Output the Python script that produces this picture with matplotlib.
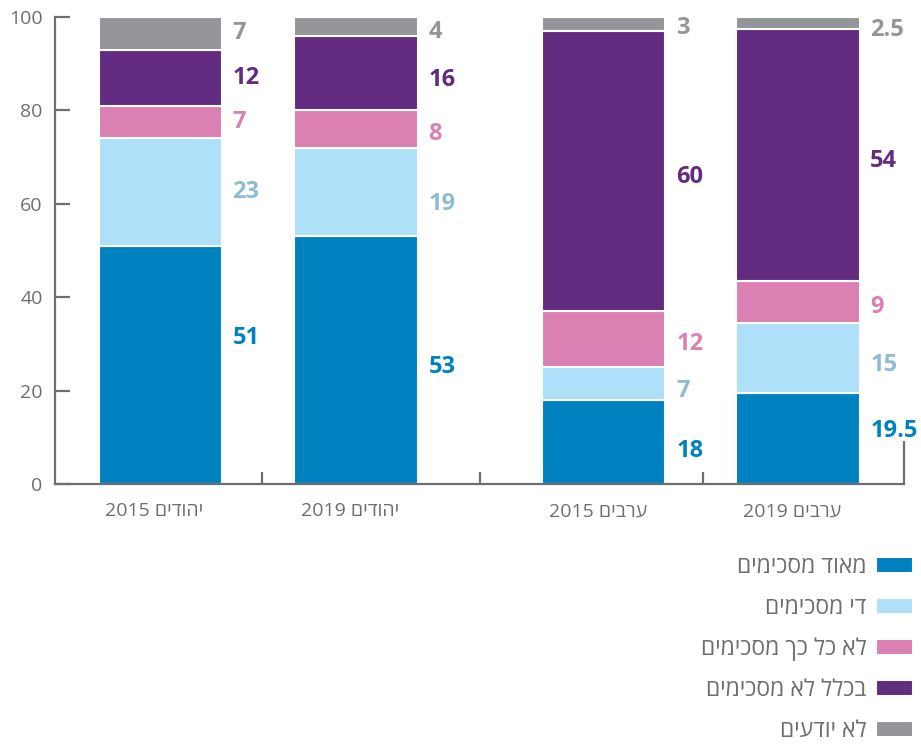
import matplotlib
matplotlib.use("Agg")
import matplotlib.pyplot as plt
import numpy as np

plt.rcParams['font.family'] = ['Open Sans', 'DejaVu Sans']

# ---- data ----
categories = ["יהודים 2015", "יהודים 2019", "ערבים 2015", "ערבים 2019"]
series_names = ["מאוד מסכימים", "די מסכימים", "לא כל כך מסכימים", "בכלל לא מסכימים", "לא יודעים"]
very_agree = [51, 53, 18, 19.5]
quite_agree = [23, 19, 7, 15]
not_so_agree = [7, 8, 12, 9]
not_at_all = [12, 16, 60, 54]
dont_know = [7, 4, 3, 2.5]
value_labels = [
    ["51", "53", "18", "19.5"],
    ["23", "19", "7", "15"],
    ["7", "8", "12", "9"],
    ["12", "16", "60", "54"],
    ["7", "4", "3", "2.5"],
]
yticks = [0, 20, 40, 60, 80, 100]

# ---- style / layout ----
colors = ["#0082c0", "#aee0f9", "#da80b2", "#632b80", "#939598"]
label_colors = ["#0082c0", "#8fbcd2", "#da80b2", "#632b80", "#939598"]
axis_color = "#6d6e71"
x_pos = [0.0, 1.0, 2.265, 3.255]
bar_width = 0.628
# vertical nudges of value labels (series x category)
label_dy = [
    [5.8, -1.5, -2.0, 1.7],
    [0.0, -2.5, -1.5, -1.5],
    [0.0, -1.0, -1.0, -1.0],
    [0.0, -1.5, -1.3, -1.3],
    [0.0, -1.3, -0.8, -1.5],
]


def vis(s):
    """Simple visual reordering for RTL Hebrew text."""
    toks = s.split(" ")
    out = []
    for t in reversed(toks):
        if any('\u0590' <= c <= '\u05ff' for c in t):
            out.append(t[::-1])
        else:
            out.append(t)
    return " ".join(out)


fig = plt.figure(figsize=(9.21, 7.49), dpi=100)
ax = fig.add_axes([55 / 921, (749 - 484) / 749, 849 / 921, 467 / 749])

series = [very_agree, quite_agree, not_so_agree, not_at_all, dont_know]
bottom = np.zeros(len(categories))
for si, vals in enumerate(series):
    vals = np.array(vals, dtype=float)
    ax.bar(x_pos, vals, bar_width, bottom=bottom, color=colors[si],
           edgecolor="white", linewidth=1.5, label=vis(series_names[si]), zorder=2)
    for ci in range(len(categories)):
        yc = bottom[ci] + vals[ci] / 2 + label_dy[si][ci]
        ax.text(x_pos[ci] + bar_width / 2 + 0.055, yc, value_labels[si][ci],
                color=label_colors[si], fontsize=17, fontweight="bold",
                ha="left", va="center")
    bottom += vals

ax.set_xlim(-0.536, 3.796)
ax.set_ylim(0, 100)

ax.spines["top"].set_visible(False)
ax.spines["left"].set_bounds(0, 100)
ax.spines["right"].set_bounds(0, 9)
for s in ["left", "bottom", "right"]:
    ax.spines[s].set_color(axis_color)
    ax.spines[s].set_linewidth(1.6)

ax.set_yticks(yticks)
ax.set_yticklabels([str(v) for v in yticks])
ax.tick_params(axis="y", direction="in", length=11, width=1.6, color=axis_color,
               labelcolor=axis_color, labelsize=14, pad=9, right=False)

sep = [0.52, 1.633, 2.77]
ax.set_xticks(sep)
ax.set_xticklabels([""] * len(sep))
ax.tick_params(axis="x", which="major", direction="in", length=9, width=1.6, color=axis_color)
ax.set_xticks([p - 0.03 for p in x_pos], minor=True)
ax.set_xticklabels([vis(c) for c in categories], minor=True)
ax.tick_params(axis="x", which="minor", length=0, labelcolor=axis_color, labelsize=14, pad=13)

leg = fig.legend(loc="upper right", bbox_to_anchor=(913 / 921, 1 - 555 / 749),
                 frameon=False, markerfirst=False, fontsize=16.5,
                 handlelength=1.62, handleheight=0.7, handletextpad=0.42,
                 labelspacing=0.74, borderpad=0, borderaxespad=0)
for t in leg.get_texts():
    t.set_color(axis_color)

fig.savefig("out.png", dpi=100)
